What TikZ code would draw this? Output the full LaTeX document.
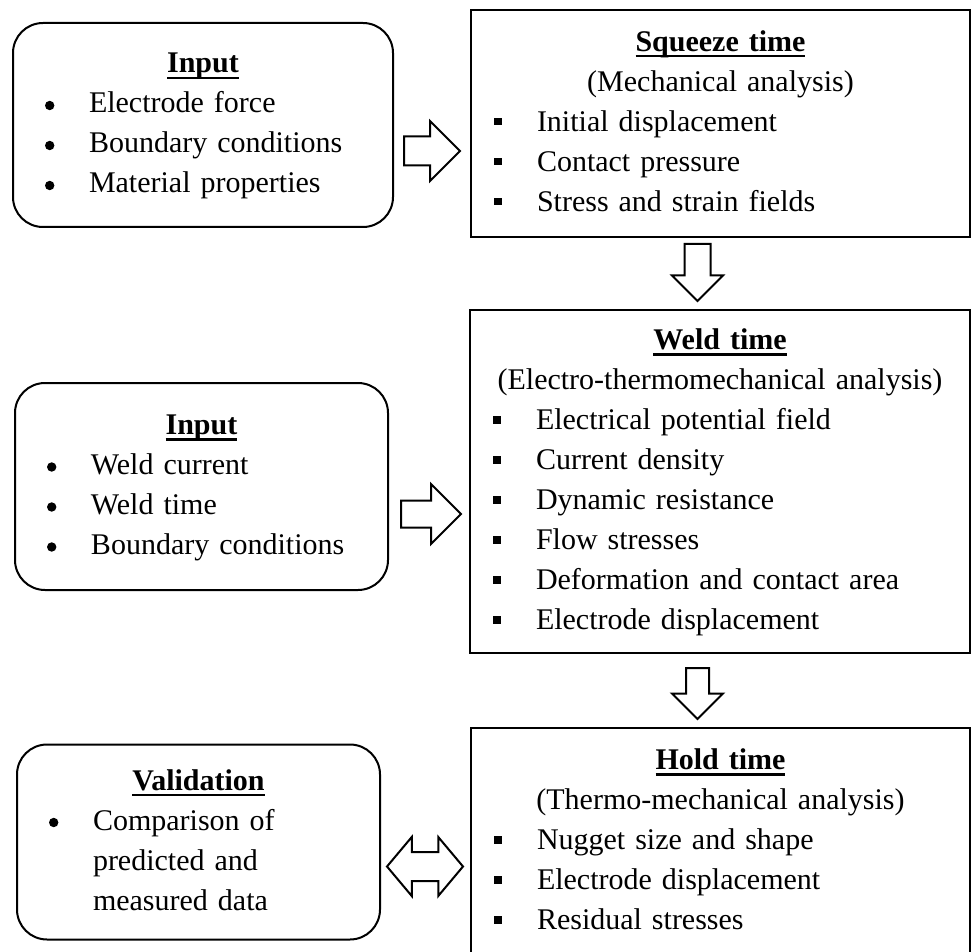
\documentclass[tikz,border=0pt]{standalone}
\usepackage{fontspec}
\setmainfont{Liberation Serif}
\usetikzlibrary{shapes.arrows}

% lines inside the boxes
\newcommand{\boxhead}[1]{\strut\makebox[\linewidth]{\setbox0\hbox{\bfseries #1}\rlap{\rule[-6pt]{\wd0}{2.2pt}}\box0}}
\newcommand{\boxsub}[1]{\strut\makebox[\linewidth]{#1}}
\newcommand{\rdot}{\tikz[baseline={(0pt,-7.5pt)}]\fill (0pt,0pt) circle (4.7pt);}
\newcommand{\rbul}[1]{\strut\makebox[76pt][l]{\hspace*{32pt}\rdot}#1}
\newcommand{\rcont}[1]{\strut\hspace*{76pt}#1}
\newcommand{\sqbul}[1]{\strut\makebox[66pt][l]{\hspace*{23pt}\rule[6pt]{7.5pt}{7.5pt}}#1}

\tikzset{
    inbox/.style={draw, line width=2pt, rounded corners=30pt, inner sep=0pt, align=left,
        font=\fontsize{30}{40}\selectfont},
    stagebox/.style={draw, line width=2.2pt, inner sep=0pt, align=left,
        font=\fontsize{30}{40}\selectfont},
    fatarrow/.style={single arrow, draw, line width=2pt, inner xsep=0pt, minimum width=0pt,
        single arrow tip angle=90, anchor=tail},
    bothways/.style={double arrow, draw, line width=2pt, inner xsep=0pt, minimum width=0pt,
        double arrow tip angle=100}
}

\begin{document}
\begin{tikzpicture}[x=1pt, y=-1pt]
    \useasboundingbox (0,0) rectangle (972,952);

    % left column
    \node[inbox, minimum width=380pt, minimum height=204pt, text width=380pt] (input1) at (203,125)
        {\boxhead{Input}\\ \rbul{Electrode force}\\ \rbul{Boundary conditions}\\ \rbul{Material properties}};
    \node[inbox, minimum width=373pt, minimum height=207pt, text width=373pt] (input2) at (201.5,486.5)
        {\boxhead{Input}\\ \rbul{Weld current}\\ \rbul{Weld time}\\ \rbul{Boundary conditions}};
    \node[inbox, minimum width=363pt, minimum height=195pt, text width=363pt] (valid) at (198.5,842)
        {\boxhead{Validation}\\ \rbul{Comparison of}\\ \rcont{predicted and}\\ \rcont{measured data}};

    % right column
    \node[stagebox, minimum width=499pt, minimum height=227pt, text width=499pt] (squeeze) at (720.5,123.5)
        {\boxhead{Squeeze time}\\ \boxsub{(Mechanical analysis)}\\ \sqbul{Initial displacement}\\
         \sqbul{Contact pressure}\\ \sqbul{Stress and strain fields}};
    \node[stagebox, minimum width=500pt, minimum height=343pt, text width=500pt] (weld) at (720,481.5)
        {\boxhead{Weld time}\\ \boxsub{(Electro-thermomechanical analysis)}\\ \sqbul{Electrical potential field}\\
         \sqbul{Current density}\\ \sqbul{Dynamic resistance}\\ \sqbul{Flow stresses}\\
         \sqbul{Deformation and contact area}\\ \sqbul{Electrode displacement}};
    \node[stagebox, minimum width=499pt, minimum height=227pt, text width=499pt] (hold) at (720.5,841.5)
        {\boxhead{Hold time}\\ \boxsub{(Thermo-mechanical analysis)}\\ \sqbul{Nugget size and shape}\\
         \sqbul{Electrode displacement}\\ \sqbul{Residual stresses}};

    % block arrows
    \node[fatarrow, minimum height=56pt, inner ysep=13.5pt, single arrow head extend=15.5pt] (toSqueeze) at (403,151) {};
    \node[fatarrow, minimum height=60pt, inner ysep=12.5pt, single arrow head extend=16.5pt] (toWeld) at (400,514) {};
    \node[fatarrow, minimum height=57pt, inner ysep=12pt, single arrow head extend=12.5pt,
        rotate=-90] (squeezeDown) at (697.5,243) {};
    \node[fatarrow, minimum height=51pt, inner ysep=10.5pt, single arrow head extend=14pt,
        rotate=-90] (weldDown) at (697.5,667) {};
    \node[bothways, minimum height=76pt, inner ysep=13.5pt, double arrow head extend=15pt] (compare) at (425,866.5) {};
\end{tikzpicture}
\end{document}
